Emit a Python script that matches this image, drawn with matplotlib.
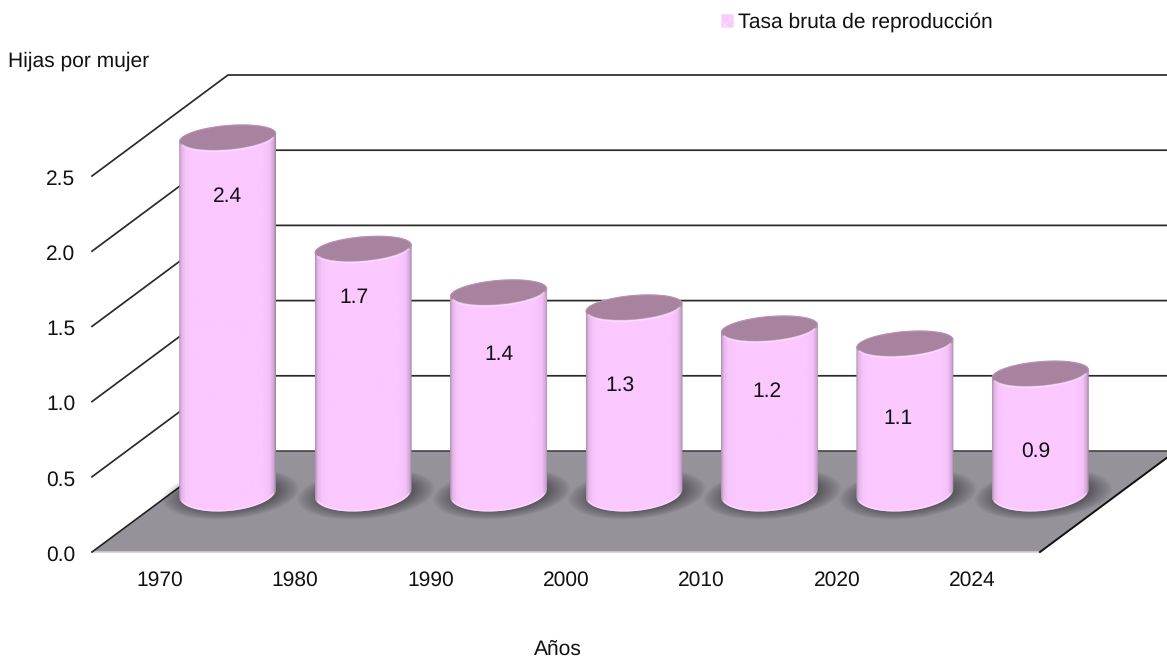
import numpy as np
import matplotlib
matplotlib.use("Agg")
import matplotlib.pyplot as plt
from matplotlib.colors import LinearSegmentedColormap
from matplotlib.patches import Polygon, Patch
from matplotlib.transforms import ScaledTranslation

# ---- data ----
years = ["1970", "1980", "1990", "2000", "2010", "2020", "2024"]
values = [2.42, 1.68, 1.39, 1.29, 1.15, 1.05, 0.85]
value_labels = ["2.4", "1.7", "1.4", "1.3", "1.2", "1.1", "0.9"]
y_ticks = [0.0, 0.5, 1.0, 1.5, 2.0, 2.5]
y_tick_labels = ["0.0", "0.5", "1.0", "1.5", "2.0", "2.5"]

# ---- style / layout ----
label_dx = [0.0, -0.07, 0.0, -0.10, -0.02, -0.05, -0.03]
label_y = [2.365, 1.695, 1.315, 1.11, 1.065, 0.885, 0.67]
W, H = 1167, 660
L, R, B, T = 92, 1040, 552, 176
PX = (R - L) / 7
PY = (B - T) / 2.5
DX, DY = 136 / PX, 101 / PY
PINK = "#FBC8FF"
plt.rcParams["font.family"] = ["Liberation Sans", "DejaVu Sans"]
plt.rcParams["text.hinting"] = "no_hinting"
plt.rcParams["text.hinting_factor"] = 1
FS = 15.25

fig = plt.figure(figsize=(W / 100, H / 100), dpi=100, facecolor="white")
ax = fig.add_axes([L / W, 1 - B / H, (R - L) / W, (B - T) / H])
ax.set_facecolor("none")
for s in ax.spines.values():
    s.set_visible(False)

# walls and floor
ax.add_patch(Polygon([(0, 0), (7, 0), (7 + DX, DY), (DX, DY)], closed=True,
                     fc="#96929A", ec="none", zorder=1, clip_on=False))
ax.plot([0, 7], [0, 0], color="#D0D0D0", lw=1.2, zorder=2, clip_on=False)
ax.plot([0, DX], [0, DY], color="#222222", lw=1.2, zorder=2, clip_on=False)
ax.plot([7, 7 + DX], [0, DY], color="#111111", lw=1.4, zorder=2, clip_on=False)
ax.plot([DX, 7 + DX], [DY, DY], color="#444444", lw=1.2, zorder=2, clip_on=False)
for t in y_ticks[1:]:
    ax.plot([0, DX, 7 + DX], [t, t + DY, t + DY], color="#2A2A2A", lw=1.25,
            zorder=2, clip_on=False, solid_joinstyle="miter")


def ellipse(cx, cy, a, b, tmin=0.0, tmax=2 * np.pi, n=120, tilt=0.08):
    """Tilted ellipse, sizes in pixels, centre in data units."""
    t = np.linspace(tmin, tmax, n)
    ax_px = a * np.cos(t)
    ay_px = b * np.sin(t) + ax_px * tilt
    return np.column_stack([cx + ax_px / PX, cy + ay_px / PY])


cmap = LinearSegmentedColormap.from_list("cyl", [
    (0.0, "#B08FB5"), (0.025, "#E2B6E6"), (0.07, "#F7C5FB"), (0.14, PINK),
    (0.86, PINK), (0.94, "#F4C0F8"), (0.98, "#CDA4D2"), (1.0, "#9A82A0")])
grad = np.linspace(0, 1, 256).reshape(1, -1)
HALF = 48.5
BASE = 0.5 * DY           # mid-depth of the floor
RAISE = 8.5 / PY          # visible foot of the cylinder sits slightly behind
for i, (v, lab) in enumerate(zip(values, value_labels)):
    cx = i + 0.5 + 0.5 * DX
    top = v + BASE
    foot = BASE + RAISE
    # shadow
    for k in range(20):
        f = k / 19
        pts = ellipse(cx + 3 / PX, foot - 1 / PY, 69 - 24 * f, 25 - 9 * f)
        ax.add_patch(Polygon(pts, closed=True, fc="#1A181C", ec="none",
                             alpha=0.026, zorder=3, clip_on=False))
    # body
    front = ellipse(cx, foot, HALF, 18, np.pi, 2 * np.pi)
    back = ellipse(cx, top, HALF, 12.5, 0, np.pi)
    clip = Polygon(np.vstack([front, back]), closed=True, transform=ax.transData,
                   fc="none", ec="none")
    ax.add_patch(clip)
    clip.set_clip_on(False)
    im = ax.imshow(grad, cmap=cmap, vmin=0, vmax=1, aspect="auto", zorder=4,
                   extent=[cx - HALF / PX, cx + HALF / PX, foot - 20 / PY, top + 14 / PY],
                   interpolation="bilinear")
    im.set_clip_box(fig.bbox)
    im.set_clip_path(clip)
    # foot rim
    ax.plot(*ellipse(cx, foot, HALF - 1.5, 17.5, np.pi * 1.08, np.pi * 1.92).T, color="#FFE2FF",
            lw=1.0, alpha=0.7, zorder=5, clip_on=False)
    # top face
    ax.add_patch(Polygon(ellipse(cx, top, HALF - 0.5, 12), closed=True, fc="#A8839F",
                         ec="#B892B2", lw=0.8, zorder=5, clip_on=False))
    ax.plot(*ellipse(cx, top, HALF - 1, 13, np.pi * 1.1, np.pi * 1.9).T, color="#FFE6FF",
            lw=1.2, alpha=0.7, zorder=6, clip_on=False)
    # value label
    ax.text(cx + label_dx[i], label_y[i], lab, ha="center", va="center",
            fontsize=FS, color="#111111", zorder=7, clip_on=False)

# axes
ax.set_xlim(0, 7)
ax.set_ylim(0, 2.5)
ax.set_xticks(np.arange(7) + 0.5, years)
ax.set_yticks(y_ticks, y_tick_labels)
ax.tick_params(axis="both", length=0, labelsize=FS, colors="#111111")
ax.tick_params(axis="y", pad=12)
ax.tick_params(axis="x", pad=13.5)
shift = ScaledTranslation(0, -1 / 100, fig.dpi_scale_trans)
for lbl in ax.get_yticklabels():
    lbl.set_transform(lbl.get_transform() + shift)

fig.text(8 / W, 1 - 61 / H, "Hijas por mujer", ha="left", va="center", fontsize=FS, color="#111111")
fig.text(558 / W, 1 - 649 / H, "Años", ha="center", va="center", fontsize=FS, color="#111111")

handle = Patch(facecolor=PINK, edgecolor="#F3DDF5", hatch="xx", lw=0.5,
               label="Tasa bruta de reproducción")
leg = fig.legend(handles=[handle], loc="center left",
                 bbox_to_anchor=(721 / W, 1 - 22.5 / H), frameon=False, fontsize=FS,
                 handlelength=0.56, handleheight=0.56, handletextpad=0.24,
                 borderpad=0, borderaxespad=0, labelcolor="#111111")

fig.savefig("out.png", dpi=100, facecolor="white")
